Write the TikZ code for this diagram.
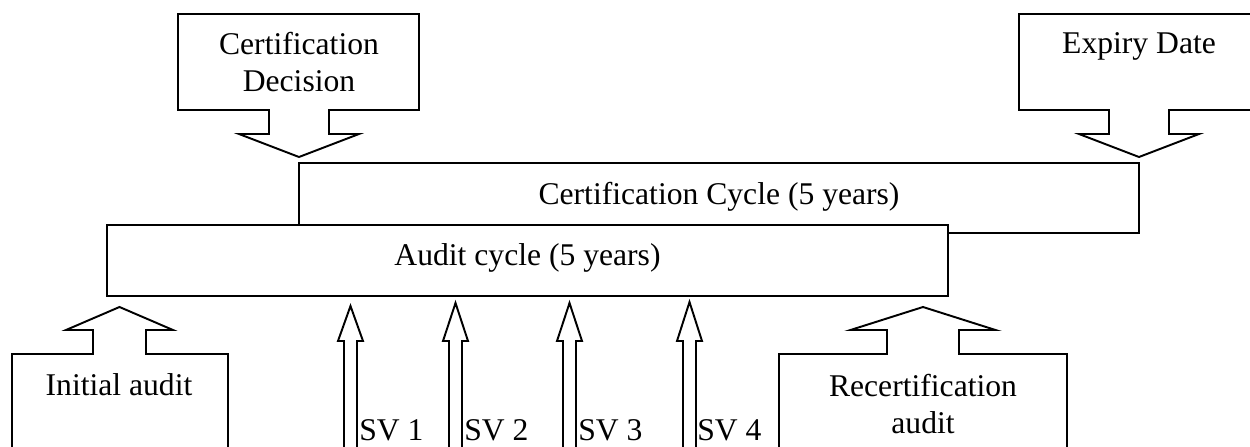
\documentclass[tikz,border=0pt]{standalone}
\usepackage{fontspec}
\setmainfont{Liberation Serif}
\usepackage{tikz}
\usetikzlibrary{positioning}
\tikzstyle{pixelGrid} = [x = 0.02cm, y = -0.02cm]
\tikzstyle{shapeStyle} = [color=black, fill=white, line width=1.1pt, line join=miter]
\tikzstyle{labelText} = [font=\fontsize{18}{21.6}\selectfont, inner sep=0pt, align=center]
\newcommand{\stemLength}{24}
\newcommand{\headLength}{23}
% box with a block arrow pointing down out of its lower side
\newcommand{\calloutDown}[7]{\filldraw [shapeStyle] (#1,#3) -- (#2,#3) -- (#2,#4) -- (#5+#6,#4) -- (#5+#6,#4+\stemLength) -- (#5+#7,#4+\stemLength) -- (#5,#4+\stemLength+\headLength) -- (#5-#7,#4+\stemLength) -- (#5-#6,#4+\stemLength) -- (#5-#6,#4) -- (#1,#4) -- cycle;}
% box with a block arrow pointing up out of its upper side, open at the bottom
\newcommand{\calloutUp}[6]{\filldraw [shapeStyle] (#1,470) -- (#1,#3) -- (#4-#5,#3) -- (#4-#5,#3-\stemLength) -- (#4-#6,#3-\stemLength) -- (#4,#3-\stemLength-\headLength) -- (#4+#6,#3-\stemLength) -- (#4+#5,#3-\stemLength) -- (#4+#5,#3) -- (#2,#3) -- (#2,470);}
\newcommand{\svArrow}[2]{\filldraw [shapeStyle] (#1-6.5,470) -- (#1-6.5,341) -- (#1-12.5,341) -- (#1,#2) -- (#1+12.5,341) -- (#1+6.5,341) -- (#1+6.5,470);}

\begin{document}
\begin{tikzpicture}[pixelGrid]
        \clip (0,0) rectangle (1250,446);

        \calloutDown{178}{419}{14}{110}{299}{30}{60}
        \calloutDown{1019}{1259}{14}{110}{1139}{30}{60}
        \filldraw [shapeStyle] (299,163) rectangle (1139,233);
        \filldraw [shapeStyle] (107,225) rectangle (948,296);

        \calloutUp{12}{228}{354}{119.5}{26.5}{53.5}
        \calloutUp{779}{1067}{354}{923}{36}{72.5}
        \foreach \svX/\svTip in {350.5/306, 455.5/303, 569.5/303, 689.5/302} {
          \svArrow{\svX}{\svTip}
        }

        \node [labelText] (decisionText) at (299,62) {Certification\\Decision};
        \node [labelText, anchor=base] (expiryText) at (1139,54) {Expiry Date};
        \node [labelText, anchor=base] (certCycleText) at (719,204) {Certification Cycle (5 years)};
        \node [labelText, anchor=base] (auditText) at (527.5,265) {Audit cycle (5 years)};
        \node [labelText, anchor=base] (initialText) at (119,395) {Initial audit};
        \node [labelText] (recertText) at (923,404) {Recertification\\audit};
        \node [labelText, anchor=base west] (svOne) at (359,440) {SV 1};
        \node [labelText, anchor=base west] (svTwo) at (464,440) {SV 2};
        \node [labelText, anchor=base west] (svThree) at (578,440) {SV 3};
        \node [labelText, anchor=base west] (svFour) at (697,440) {SV 4};
      \end{tikzpicture}
\end{document}
